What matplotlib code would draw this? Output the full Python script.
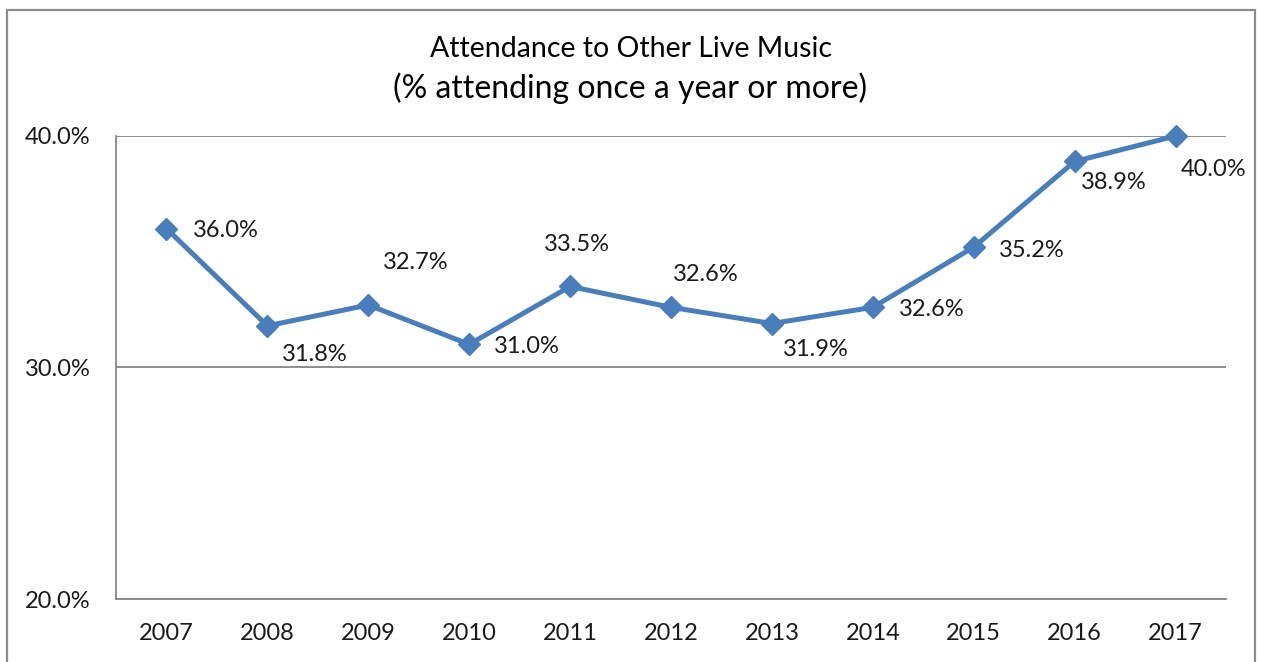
import matplotlib.pyplot as plt
from matplotlib.patches import Rectangle

years = ["2007", "2008", "2009", "2010", "2011", "2012", "2013", "2014", "2015", "2016", "2017"]
attendance = [36.0, 31.8, 32.7, 31.0, 33.5, 32.6, 31.9, 32.6, 35.2, 38.9, 40.0]
y_ticks = [20.0, 30.0, 40.0]

# label offsets (pixels) relative to each point
label_offsets = [(59, -2), (47, -29), (47, 42), (58, -2), (7, 42), (35, 33),
                 (44, -26), (59, -2), (58, -3), (39, -21), (38, -34)]

line_color = "#4A7EBB"
axis_gray = "#868686"
font = "Lato"

fig = plt.figure(figsize=(12.61, 6.62), dpi=100)
ax = fig.add_axes([116 / 1261, 1 - 599 / 662, (1226 - 116) / 1261, (599 - 136) / 662])

x = list(range(len(years)))
ax.plot(x, attendance, color=line_color, lw=3.6, marker="D", markersize=11,
        markerfacecolor=line_color, markeredgecolor=line_color, zorder=3, clip_on=False)

for xi, v, (dx, dy) in zip(x, attendance, label_offsets):
    ax.annotate(f"{v:.1f}%", (xi, v), xytext=(dx, dy), textcoords="offset pixels",
                ha="center", va="center", fontsize=17, family=font, color="#1a1a1a")

ax.set_xlim(-0.5, len(years) - 0.5)
ax.set_ylim(20, 40)
ax.set_yticks(y_ticks)
ax.set_yticklabels([f"{t:.1f}%" for t in y_ticks], family=font, fontsize=17)
ax.set_xticks(x)
ax.set_xticklabels(years, family=font, fontsize=17)
ax.tick_params(axis="both", length=0, colors="#1a1a1a")
ax.tick_params(axis="y", pad=18.5)
ax.tick_params(axis="x", pad=17)

ax.yaxis.grid(True, color=axis_gray, lw=1.3)
ax.set_axisbelow(True)
for side in ("top", "right"):
    ax.spines[side].set_visible(False)
for side in ("left", "bottom"):
    ax.spines[side].set_color(axis_gray)
    ax.spines[side].set_linewidth(1.3)

fig.text(0.5, 1 - 49 / 662, "Attendance to Other Live Music", ha="center", va="center",
         fontsize=20.5, family=font, color="black")
fig.text(0.5, 1 - 88 / 662, "(% attending once a year or more)", ha="center", va="center",
         fontsize=23, family=font, color="black")

fig.patches.append(Rectangle((7 / 1261, -0.1), (1255 - 7) / 1261, 1.1 - 10 / 662,
                             transform=fig.transFigure, fill=False, edgecolor="#8C8C8C", lw=1.6))

fig.savefig("out.png", dpi=100)
